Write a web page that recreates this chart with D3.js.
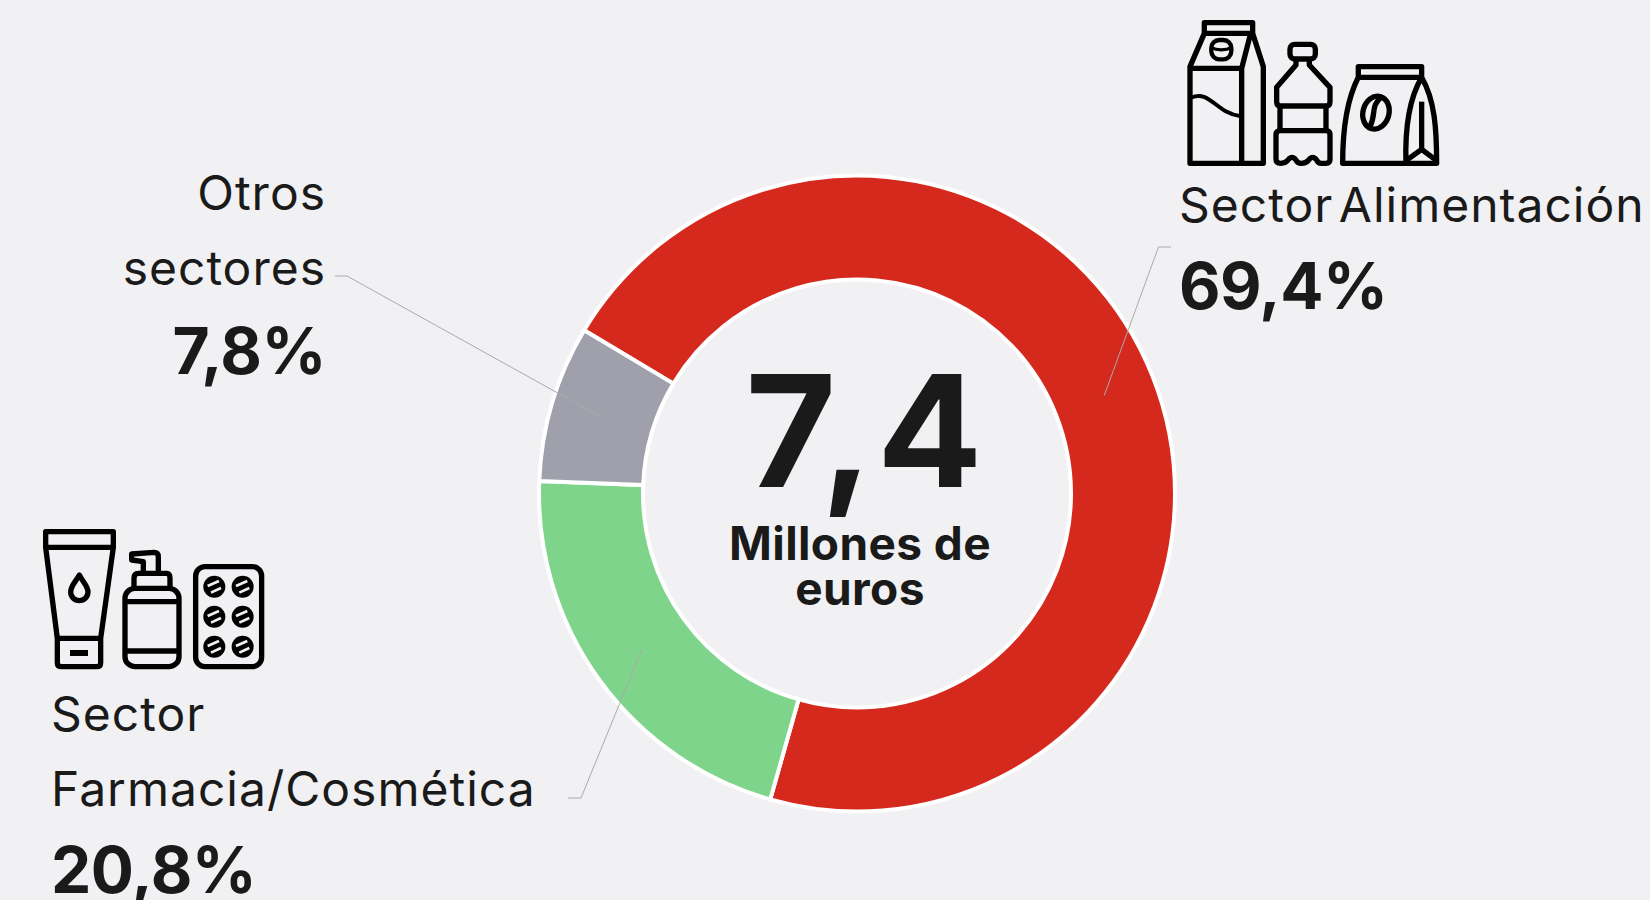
<!DOCTYPE html>
<html>
<head>
<meta charset="utf-8">
<script src="https://cdn.jsdelivr.net/npm/d3@7"></script>
<style>
  html, body { margin: 0; padding: 0; background: #f1f1f4; overflow: hidden; }
  svg { display: block; }
  text { font-family: "Inter", sans-serif; fill: #1a1a1a; }
  .icon path, .icon rect, .icon ellipse { fill: none; stroke: #000; stroke-width: 16; stroke-linejoin: round; }
</style>
</head>
<body>
<div id="chart"></div>
<script>
var sectors = ["Sector Alimentación", "Sector Farmacia/Cosmética", "Otros sectores"];
var shares = [69.4, 20.8, 7.8];
var shareLabels = ["69,4%", "20,8%", "7,8%"];
var colors = ["#d6291e", "#7dd48a", "#a0a0ac"];
var total = "7,4";
var totalUnit = ["Millones de", "euros"];

var width = 1650, height = 900;
var cx = 857, cy = 493.5;
var outer = 318, inner = 214;

var svg = d3.select("#chart").append("svg")
  .attr("width", width)
  .attr("height", height);

var pie = d3.pie()
  .sort(null)
  .startAngle(-59.1 * Math.PI / 180)
  .endAngle(300.9 * Math.PI / 180);

var arc = d3.arc().innerRadius(inner).outerRadius(outer);

var ring = svg.append("g").attr("transform", `translate(${cx},${cy})`);
var slices = pie(shares);

ring.selectAll("path")
  .data(slices)
  .join("path")
  .attr("d", arc)
  .attr("fill", (d, i) => colors[i])
  .attr("stroke", "#fff")
  .attr("stroke-width", 4);

// leader lines go from the middle of the slice to the label
var elbows = [
  [[1158.5, 247], [1171, 247]],
  [[581, 798], [568, 798]],
  [[347, 276], [335, 276]]
];
var line = d3.line();
svg.append("g")
  .attr("fill", "none")
  .attr("stroke", "#aaa")
  .attr("stroke-width", 1)
  .selectAll("path")
  .data(slices)
  .join("path")
  .attr("d", (d, i) => {
    var c = arc.centroid(d);
    return line([[cx + c[0], cy + c[1]]].concat(elbows[i]));
  });

// centre
svg.append("text")
  .attr("x", 866).attr("y", 487)
  .attr("text-anchor", "middle")
  .attr("font-size", 156).attr("font-weight", 700)
  .attr("letter-spacing", 4)
  .text(total);
svg.append("g").selectAll("text")
  .data(totalUnit)
  .join("text")
  .attr("x", 860)
  .attr("y", (d, i) => 560 + i * 45)
  .attr("text-anchor", "middle")
  .attr("font-size", 46).attr("font-weight", 700)
  .attr("letter-spacing", 0.4)
  .text(d => d);

// labels
function label(x, anchor, lines, pct, ys, pctY) {
  var g = svg.append("g").attr("text-anchor", anchor);
  lines.forEach((t, i) => {
    g.append("text").attr("x", x).attr("y", ys[i])
      .attr("font-size", 48).attr("letter-spacing", 1)
      .attr("word-spacing", -9).text(t);
  });
  g.append("text").attr("x", x).attr("y", pctY)
    .attr("font-size", 64).attr("font-weight", 700)
    .attr("letter-spacing", -0.5).text(pct);
}
label(1179, "start", [sectors[0]], shareLabels[0], [222], 309);
label(51, "start", ["Sector", "Farmacia/Cosmética"], shareLabels[1], [731, 806], 893);
label(326, "end", ["Otros", "sectores"], shareLabels[2], [210, 285], 374);

// food icons, drawn in the units of a 3x crop
var food = svg.append("g").attr("class", "icon").attr("transform", "translate(1160,0) scale(0.3333)");
[
  "M90 490V200L133 100V68H278V100L310 200V490Z",
  "M90 205H245V490M133 100H272M245 205L272 100",
  "M408 177V195L350 262V305Q350 318 362 318H498Q510 318 510 305V262L448 195V177",
  "M360 318V392M498 318V392",
  "M362 392H498Q510 392 510 404V478Q510 490 498 490H484Q474 490 470 480Q458 464 446 480Q438 490 424 490Q412 490 408 480Q396 464 384 480Q378 490 362 490Q348 490 348 478V404Q348 392 362 392Z",
  "M595 232V200H785V232H595C560 300 548 390 548 490H830C830 390 825 300 785 232C745 300 735 400 738 490",
  "M738 482L785 448L830 482",
  "M785 305V445",
  "M630 380C650 340 630 320 665 290"
].forEach(d => food.append("path").attr("d", d));
food.append("path").attr("d", "M95 292C150 270 170 340 240 348").style("stroke-width", 12);
food.append("rect").attr("x", 390).attr("y", 133).attr("width", 76).attr("height", 44).attr("rx", 14);
food.append("rect").attr("x", 154).attr("y", 120).attr("width", 60).attr("height", 58).attr("rx", 24).style("stroke-width", 13);
food.append("path").attr("d", "M154 143C170 152 198 152 214 143").style("stroke-width", 10);
food.append("ellipse").attr("cx", 648).attr("cy", 338).attr("rx", 39).attr("ry", 50).attr("transform", "rotate(15 648 338)");

// pharmacy icons
var pharma = svg.append("g").attr("class", "icon").attr("transform", "translate(30,510) scale(0.3333)");
[
  "M47 65H250V112L212 385V458Q212 470 200 470H95Q82 470 82 458V385L47 112Z",
  "M47 112H250M82 385H212",
  "M148 195C135 218 122 228 122 246A26 26 0 0 0 174 246C174 228 160 218 148 195Z",
  "M285 275H447M285 423H447",
  "M312 235V205Q312 190 325 190H410Q420 190 420 205V235",
  "M340 190V155L305 150V132L372 127Q385 127 385 140V190"
].forEach(d => pharma.append("path").attr("d", d));
pharma.append("rect").attr("x", 285).attr("y", 235).attr("width", 162).attr("height", 235).attr("rx", 30);
pharma.append("rect").attr("x", 497).attr("y", 170).attr("width", 198).attr("height", 300).attr("rx", 28);
pharma.append("rect").attr("x", 120).attr("y", 420).attr("width", 54).attr("height", 18).style("fill", "#000").style("stroke", "none");
var pills = d3.cross([553, 638], [230, 320, 410]);
pharma.selectAll("circle").data(pills).join("circle")
  .attr("cx", d => d[0]).attr("cy", d => d[1]).attr("r", 33).attr("fill", "#000");
pharma.selectAll("path.slot").data(pills).join("path").attr("class", "slot")
  .attr("d", d => `M${d[0] - 20} ${d[1] - 2}L${d[0] + 14} ${d[1] - 17}M${d[0] - 10} ${d[1] + 18}L${d[0] + 20} ${d[1] + 4}`)
  .style("stroke", "#f1f1f4").style("stroke-width", 8);
</script>
</body>
</html>
